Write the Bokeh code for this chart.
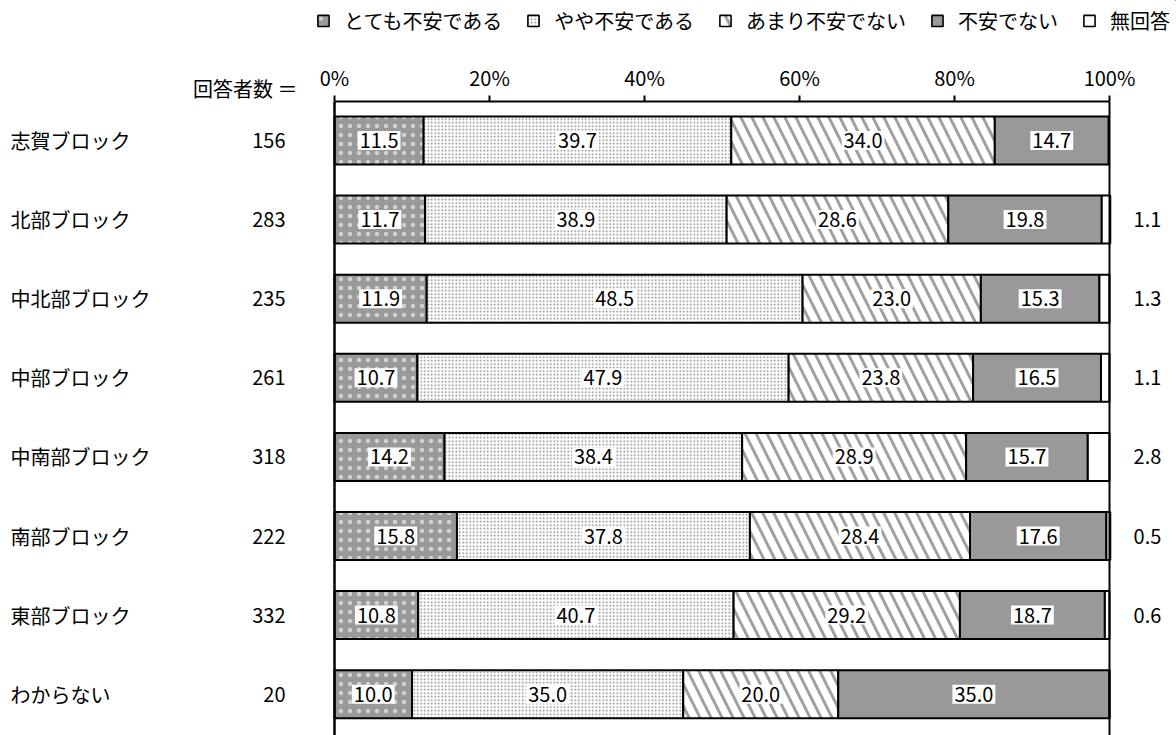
from bokeh.plotting import figure
from bokeh.layouts import column, row
from bokeh.models import (ColumnDataSource, Range1d, LinearAxis, FixedTicker,
                          PrintfTickFormatter, Span, Legend, LegendItem)
from bokeh.embed import file_html
from bokeh.resources import INLINE
from bokeh.core.properties import value

# ---------------- data ----------------
categories = ["志賀ブロック", "北部ブロック", "中北部ブロック", "中部ブロック",
              "中南部ブロック", "南部ブロック", "東部ブロック", "わからない"]
counts = [156, 283, 235, 261, 318, 222, 332, 20]
series = ["とても不安である", "やや不安である", "あまり不安でない", "不安でない", "無回答"]
very_anxious = [11.5, 11.7, 11.9, 10.7, 14.2, 15.8, 10.8, 10.0]
somewhat_anxious = [39.7, 38.9, 48.5, 47.9, 38.4, 37.8, 40.7, 35.0]
not_very_anxious = [34.0, 28.6, 23.0, 23.8, 28.9, 28.4, 29.2, 20.0]
not_anxious = [14.7, 19.8, 15.3, 16.5, 15.7, 17.6, 18.7, 35.0]
no_answer = [0.0, 1.1, 1.3, 1.1, 2.8, 0.5, 0.6, 0.0]
ticks = [0, 20, 40, 60, 80, 100]
count_header = "回答者数 ＝"

series_values = [very_anxious, somewhat_anxious, not_very_anxious, not_anxious, no_answer]

# ---------------- layout constants ----------------
FONT = "Noto Sans CJK JP"
FS = "20px"
TOTAL_W, TOTAL_H = 1176, 735
LEFT_W = 300                   # width of the label panel
RIGHT_W = TOTAL_W - LEFT_W
LEG_H = 40
FRAME_TOP = 101                # page y of the axis line
PX = 7.75                      # pixels per percent
ROW = 79.1                     # pixels per row
ROW0 = 140                     # page y of first row centre
X0 = -(334 - LEFT_W) / PX
X1 = X0 + RIGHT_W / PX
Y_TOP = -(ROW0 - FRAME_TOP) / ROW
Y_BOT = Y_TOP + (TOTAL_H - FRAME_TOP) / ROW

styles = [
    dict(fill_color="#999999", hatch_pattern="dot", hatch_color="white",
         hatch_scale=9, hatch_alpha=0.55),
    dict(fill_color="white", hatch_pattern="dot", hatch_color="#808080",
         hatch_scale=3.5, hatch_weight=1.5),
    dict(fill_color="white", hatch_pattern="left_diagonal_line", hatch_color="#a0a0a0",
         hatch_scale=22, hatch_weight=3),
    dict(fill_color="#999999"),
    dict(fill_color="white"),
]


def bare_figure(w, h, xr, yr, top=0):
    f = figure(width=w, height=h, x_range=xr, y_range=yr,
               x_axis_location=None, y_axis_location=None, toolbar_location=None,
               output_backend="svg", min_border_left=0, min_border_right=0,
               min_border_bottom=0, min_border_top=top, outline_line_color=None)
    f.xgrid.grid_line_color = None
    f.ygrid.grid_line_color = None
    return f


ys = list(range(len(categories)))

# ---------------- left label panel ----------------
a = bare_figure(LEFT_W, TOTAL_H, Range1d(0, LEFT_W),
                Range1d((TOTAL_H - ROW0) / ROW, -ROW0 / ROW))
cat_src = ColumnDataSource(dict(x=[10] * len(categories), y=ys, t=categories))
a.text(x="x", y="y", text="t", source=cat_src, text_align="left", text_baseline="middle",
       text_font=value(FONT), text_font_size=FS, text_color="black")
cnt_src = ColumnDataSource(dict(x=[285] * len(counts), y=ys, t=[str(c) for c in counts]))
a.text(x="x", y="y", text="t", source=cnt_src, text_align="right", text_baseline="middle",
       text_font=value(FONT), text_font_size=FS, text_color="black")
a.text(x=[297], y=[-(ROW0 - 88) / ROW], text=[count_header], text_align="right",
       text_baseline="middle", text_font=value(FONT), text_font_size=FS, text_color="black")

# ---------------- main bar chart ----------------
p = bare_figure(RIGHT_W, TOTAL_H - LEG_H, Range1d(X0, X1), Range1d(Y_BOT, Y_TOP),
                top=FRAME_TOP - LEG_H)

cum = [0.0] * len(categories)
for k, vals in enumerate(series_values):
    left = cum[:]
    right = [a_ + b_ for a_, b_ in zip(cum, vals)]
    src = ColumnDataSource(dict(y=ys, left=left, right=right))
    p.hbar(y="y", left="left", right="right", height=0.607, source=src,
           line_color="black", line_width=2, **styles[k])
    keep = [i for i, v in enumerate(vals) if v > 0]
    if k < 4:
        lab = ColumnDataSource(dict(x=[(left[i] + right[i]) / 2 for i in keep],
                                    y=[ys[i] for i in keep],
                                    t=["%.1f" % vals[i] for i in keep]))
        p.text(x="x", y="y", text="t", source=lab, text_align="center",
               text_baseline="middle", text_font=value(FONT), text_font_size=FS,
               text_color="black", background_fill_color="white", padding=2)
    else:
        lab = ColumnDataSource(dict(x=[103.1] * len(keep), y=[ys[i] for i in keep],
                                    t=["%.1f" % vals[i] for i in keep]))
        p.text(x="x", y="y", text="t", source=lab, text_align="left",
               text_baseline="middle", text_font=value(FONT), text_font_size=FS,
               text_color="black")
    cum = right

p.add_layout(Span(location=0, dimension="height", line_color="black", line_width=2.5))
p.add_layout(Span(location=100, dimension="height", line_color="black", line_width=2))

ax = LinearAxis(ticker=FixedTicker(ticks=ticks), formatter=PrintfTickFormatter(format="%d%%"),
                bounds=(0, 100))
ax.axis_line_width = 2
ax.axis_line_color = "black"
ax.major_tick_line_width = 2
ax.major_tick_out = 6
ax.major_tick_in = 0
ax.minor_tick_out = 0
ax.minor_tick_in = 0
ax.major_label_text_font = FONT
ax.major_label_text_font_size = FS
ax.major_label_text_color = "black"
ax.major_label_standoff = 4
p.add_layout(ax, "above")

# ---------------- legend strip ----------------
lg = bare_figure(RIGHT_W, LEG_H, Range1d(0, 1), Range1d(0, 1))
items = []
for k, s in enumerate(series):
    # one off-screen bar per series so the legend has a glyph to draw
    dummy = ColumnDataSource(dict(y=[5], left=[5], right=[6]))
    r = lg.hbar(y="y", left="left", right="right", height=0.5, source=dummy,
                line_color="black", line_width=1.6, **styles[k])
    items.append(LegendItem(label=s, renderers=[r], index=0))
legend = Legend(items=items, orientation="horizontal", location="center_right")
legend.label_text_font = FONT
legend.label_text_font_size = FS
legend.label_text_color = "black"
legend.glyph_width = 14
legend.glyph_height = 14
legend.label_standoff = 14
legend.spacing = 24
legend.padding = 0
legend.margin = 6
legend.border_line_color = None
legend.background_fill_alpha = 0
lg.add_layout(legend)

layout = row(a, column(lg, p, spacing=0), spacing=0)
open("out.html", "w").write(file_html(layout, INLINE))
